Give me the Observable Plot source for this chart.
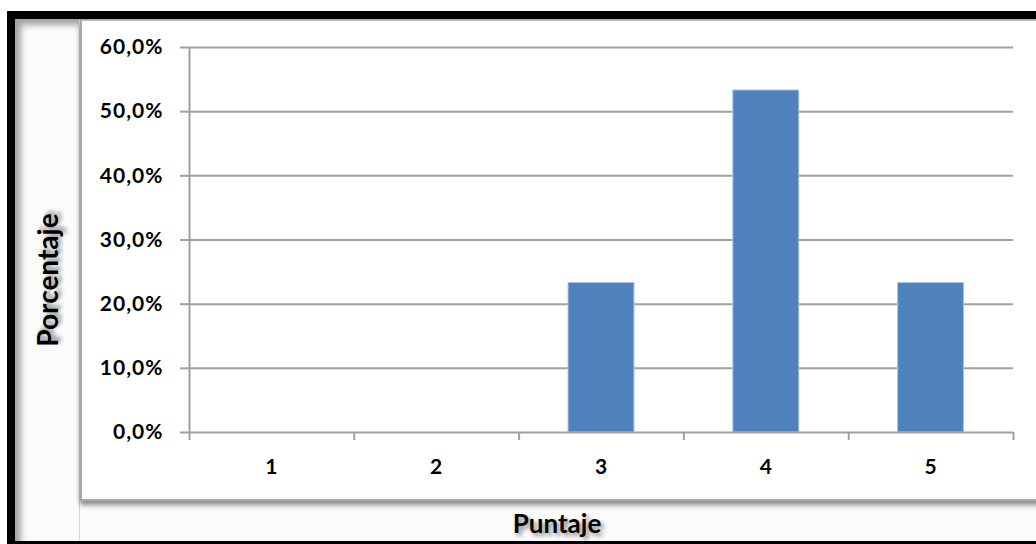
<!DOCTYPE html>
<html>
<head>
<meta charset="utf-8">
<script src="https://cdn.jsdelivr.net/npm/d3@7"></script>
<script src="https://cdn.jsdelivr.net/npm/@observablehq/plot@0.6"></script>
<style>
  html, body { margin: 0; padding: 0; background: #fff; }
  #wrap { position: relative; width: 1036px; height: 544px; overflow: hidden; background: #fff; font-family: Lato, "Open Sans", sans-serif; }
  .abs { position: absolute; }
  #black { left: 7px; top: 11px; width: 1200px; height: 700px; background: #000; }
  #inner { left: 15px; top: 19px; width: 1200px; height: 522px; background: #fbfbfb; box-shadow: inset 6px 6px 6px rgba(0,0,0,0.35); }
  #vline { left: 79px; top: 20px; width: 1px; height: 521px; background: #d4d4d4; }
  #plotbox { left: 80px; top: 20px; width: 1200px; height: 478px; background: #fff; border-left: 2px solid #a8a8a8; border-top: 1px solid #bdbdbd; border-bottom: 2px solid #a8a8a8; box-shadow: 0 4px 5px rgba(0,0,0,0.45); }
  #chart { left: 0; top: 0; }
  #chart svg text { letter-spacing: 1px; }
  .title { font-family: Lato, sans-serif; font-weight: 700; color: #000; text-shadow: 3px 3px 4px rgba(0,0,0,0.45); white-space: nowrap; }
  #ytitle { left: 47px; top: 280px; font-size: 28px; transform: translate(-50%, -50%) rotate(-90deg); }
  #xtitle { left: 557px; top: 523px; font-size: 26px; transform: translate(-50%, -50%); }
</style>
</head>
<body>
<div id="wrap">
  <div id="black" class="abs"></div>
  <div id="inner" class="abs"></div>
  <div id="vline" class="abs"></div>
  <div id="plotbox" class="abs"></div>
  <div id="chart" class="abs"></div>
  <div id="ytitle" class="abs title">Porcentaje</div>
  <div id="xtitle" class="abs title">Puntaje</div>
</div>
<script>
// Data
const categories = [1, 2, 3, 4, 5];
const percentages = [0, 0, 23.3, 53.3, 23.3];
const yTicks = [0, 10, 20, 30, 40, 50, 60];

const table = categories.map((c, i) => ({ puntaje: c, pct: percentages[i] }));
const boundaries = [categories[0] - 0.5, ...categories.map(c => c + 0.5)];
const half = 0.2; // half bar width as fraction of category step
const gridColor = "#a0a0a0";
const fmt = d => d.toFixed(1).replace(".", ",") + "%";

const chart = Plot.plot({
  width: 1036,
  height: 544,
  marginLeft: 189,
  marginRight: 23,
  marginTop: 47,
  marginBottom: 112,
  style: { background: "transparent", fontFamily: "Lato, sans-serif", overflow: "visible" },
  x: { domain: [boundaries[0], boundaries[boundaries.length - 1]] },
  y: { domain: [yTicks[0], yTicks[yTicks.length - 1]] },
  marks: [
    Plot.ruleY(yTicks.filter(t => t > 0), { stroke: gridColor, strokeWidth: 2 }),
    Plot.rectY(table, {
      x1: d => d.puntaje - half,
      x2: d => d.puntaje + half,
      y1: 0,
      y2: "pct",
      fill: "#4f81bd",
      stroke: "#a9c3e3",
      strokeWidth: 1
    }),
    Plot.ruleY([0], { stroke: gridColor, strokeWidth: 2 }),
    Plot.ruleX([boundaries[0]], { y1: yTicks[0], y2: yTicks[yTicks.length - 1], stroke: gridColor, strokeWidth: 2 }),
    Plot.axisY(yTicks, {
      tickSize: 9,
      tickPadding: 17,
      tickFormat: fmt,
      stroke: gridColor,
      strokeWidth: 2,
      fill: "#000",
      fontSize: 21,
      fontWeight: 700,
      label: null
    }),
    Plot.axisX(boundaries, {
      tickSize: 8,
      tickFormat: () => "",
      stroke: gridColor,
      strokeWidth: 2,
      label: null
    }),
    Plot.axisX(categories, {
      tickSize: 0,
      tickPadding: 27,
      tickFormat: d => String(d),
      fill: "#000",
      fontSize: 21,
      fontWeight: 700,
      label: null
    })
  ]
});
document.getElementById("chart").appendChild(chart);
</script>
</body>
</html>
